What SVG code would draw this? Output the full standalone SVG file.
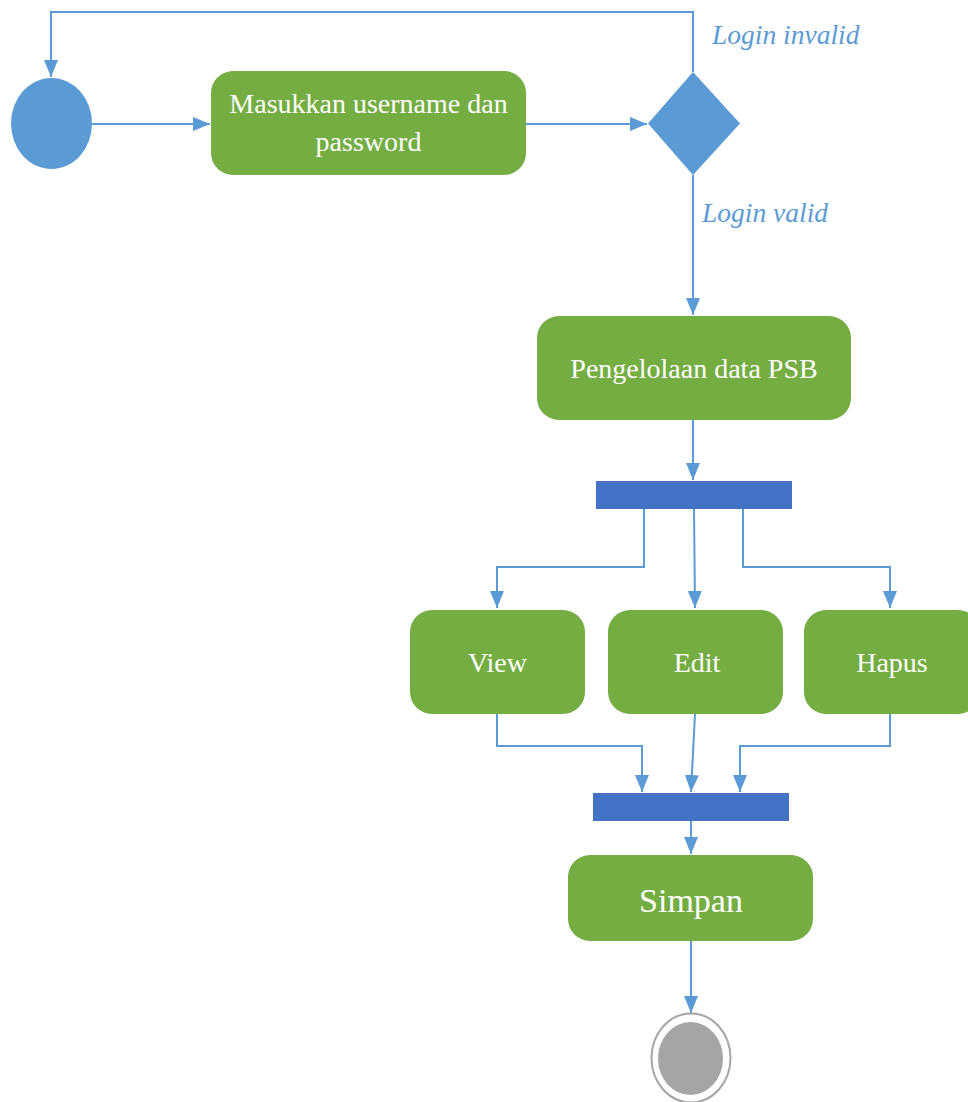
<svg xmlns="http://www.w3.org/2000/svg" width="968" height="1102" viewBox="0 0 968 1102">
<style>
.act{fill:#74AE42;}
.lbl{font-family:"Liberation Serif",serif;fill:#FFFFFF;font-size:28px;text-anchor:middle;}
.guard{font-family:"Liberation Serif",serif;fill:#5B9BD5;font-size:27.5px;font-style:italic;}
.bar{fill:#4472C4;}
.ln{fill:none;stroke:#5B9BD5;stroke-width:2;}
</style>
<defs>
<marker id="ah" markerUnits="userSpaceOnUse" markerWidth="18" markerHeight="18" viewBox="0 0 18 18" refX="17" refY="9" orient="auto">
<path d="M0,2 L17,9 L0,16 Z" fill="#5B9BD5"/>
</marker>
</defs>
<rect width="968" height="1102" fill="#FFFFFF"/>
<g id="connectors">
<polyline class="ln" points="693,72 693,12 51,12 51,77" marker-end="url(#ah)"/>
<line class="ln" x1="92" y1="124" x2="210" y2="124" marker-end="url(#ah)"/>
<line class="ln" x1="526" y1="124" x2="647" y2="124" marker-end="url(#ah)"/>
<line class="ln" x1="693" y1="175" x2="693" y2="315" marker-end="url(#ah)"/>
<line class="ln" x1="693" y1="420" x2="693" y2="480" marker-end="url(#ah)"/>
<polyline class="ln" points="644,509 644,567 497,567 497,608" marker-end="url(#ah)"/>
<line class="ln" x1="694" y1="509" x2="695" y2="608" marker-end="url(#ah)"/>
<polyline class="ln" points="743,509 743,567 890,567 890,608" marker-end="url(#ah)"/>
<polyline class="ln" points="497,714 497,746 642,746 642,792" marker-end="url(#ah)"/>
<line class="ln" x1="695" y1="714" x2="691" y2="792" marker-end="url(#ah)"/>
<polyline class="ln" points="890,714 890,746 740,746 740,792" marker-end="url(#ah)"/>
<line class="ln" x1="691" y1="821" x2="691" y2="854" marker-end="url(#ah)"/>
<line class="ln" x1="691" y1="941" x2="691" y2="1013" marker-end="url(#ah)"/>
<text class="guard" x="712" y="44">Login invalid</text>
<text class="guard" x="702" y="222">Login valid</text>
</g>
<g id="start"><ellipse cx="51.5" cy="123.5" rx="40.5" ry="45.5" fill="#5B9BD5"/></g>
<g id="login"><rect class="act" x="211" y="71" width="315" height="104" rx="22"/>
<text class="lbl" x="368.5" y="113">Masukkan username dan</text>
<text class="lbl" x="368.5" y="151">password</text></g>
<g id="decision"><polygon points="693,72 740,123.5 693,175 648,123.5" fill="#5B9BD5"/></g>
<g id="kelola"><rect class="act" x="537" y="316" width="314" height="104" rx="22"/>
<text class="lbl" x="694" y="378">Pengelolaan data PSB</text></g>
<g id="fork"><rect class="bar" x="596" y="481" width="196" height="28"/></g>
<g id="view"><rect class="act" x="410" y="610" width="175" height="104" rx="22"/>
<text class="lbl" x="497.5" y="672">View</text></g>
<g id="edit"><rect class="act" x="608" y="610" width="175" height="104" rx="22"/>
<text class="lbl" x="697" y="672">Edit</text></g>
<g id="hapus"><rect class="act" x="804" y="610" width="176" height="104" rx="22"/>
<text class="lbl" x="892" y="672">Hapus</text></g>
<g id="join"><rect class="bar" x="593" y="793" width="196" height="28"/></g>
<g id="simpan"><rect class="act" x="568" y="855" width="245" height="86" rx="22"/>
<text class="lbl" x="691" y="912" style="font-size:34px">Simpan</text></g>
<g id="end"><ellipse cx="691" cy="1058" rx="39.5" ry="44.5" fill="#FFFFFF" stroke="#A6A6A6" stroke-width="2"/>
<ellipse cx="690.5" cy="1058.5" rx="32.5" ry="36.5" fill="#A5A5A5"/></g>
</svg>
